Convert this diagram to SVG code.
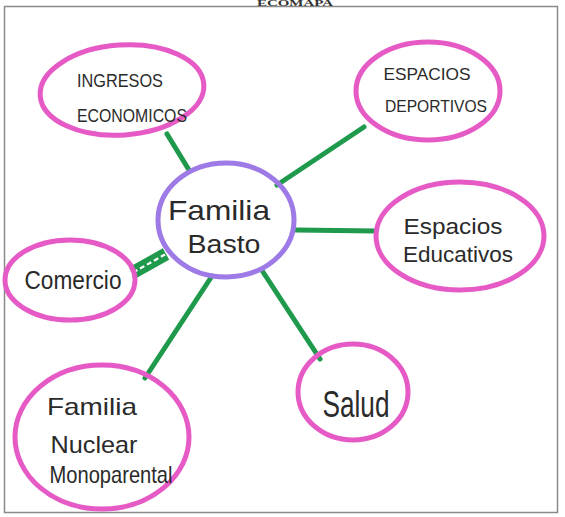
<svg xmlns="http://www.w3.org/2000/svg" width="565" height="517" viewBox="0 0 565 517">
<style>
.node{fill:none;stroke:#e65ac6;stroke-width:5}
.center{fill:none;stroke:#9d7ae6;stroke-width:5}
.link{stroke:#1f9a4c;stroke-width:5;stroke-linecap:round;fill:none}
.t{font-family:"Liberation Sans",Arial,sans-serif;fill:#2a2a2a;text-anchor:middle}
</style>
<rect x="0" y="0" width="565" height="517" fill="#ffffff"/>
<rect x="4.5" y="6.5" width="553" height="506" fill="none" stroke="#8a8a8a" stroke-width="1.5"/>
<text x="295" y="5.5" font-family="Liberation Serif,serif" font-weight="bold" font-size="7.5" fill="#333" text-anchor="middle" textLength="76" lengthAdjust="spacingAndGlyphs">ECOMAPA</text>
<g id="connectors">
<line class="link" x1="167" y1="134" x2="189" y2="170"/>
<line class="link" x1="364" y1="127" x2="277" y2="185"/>
<line class="link" x1="296" y1="230" x2="376" y2="231"/>
<line class="link" x1="145" y1="378" x2="212" y2="276"/>
<line class="link" x1="320" y1="359" x2="263" y2="272"/>
<line x1="132" y1="273" x2="166" y2="254" stroke="#1f9a4c" stroke-width="13"/>
<line x1="133" y1="272.5" x2="165" y2="254.5" stroke="#ffffff" stroke-width="2.2" stroke-dasharray="5 3"/>
</g>
<g id="ingresos">
<ellipse class="node" cx="122" cy="90" rx="82" ry="45" transform="rotate(-4 122 90)"/>
<text class="t" x="120" y="87" font-size="18" textLength="86" lengthAdjust="spacingAndGlyphs">INGRESOS</text>
<text class="t" x="132" y="122" font-size="18" textLength="110" lengthAdjust="spacingAndGlyphs">ECONOMICOS</text>
</g>
<g id="deportivos">
<ellipse class="node" cx="428" cy="91" rx="72" ry="49"/>
<text class="t" x="427" y="80" font-size="17" textLength="87" lengthAdjust="spacingAndGlyphs">ESPACIOS</text>
<text class="t" x="436" y="112" font-size="17" textLength="102" lengthAdjust="spacingAndGlyphs">DEPORTIVOS</text>
</g>
<g id="familia-basto">
<ellipse class="center" cx="226" cy="220" rx="68" ry="57"/>
<text class="t" x="219" y="220" font-size="28" textLength="102" lengthAdjust="spacingAndGlyphs">Familia</text>
<text class="t" x="224" y="253" font-size="26" textLength="73" lengthAdjust="spacingAndGlyphs">Basto</text>
</g>
<g id="educativos">
<ellipse class="node" cx="460" cy="236" rx="84" ry="54"/>
<text class="t" x="453" y="234" font-size="22" textLength="99" lengthAdjust="spacingAndGlyphs">Espacios</text>
<text class="t" x="458" y="262" font-size="22" textLength="110" lengthAdjust="spacingAndGlyphs">Educativos</text>
</g>
<g id="comercio">
<ellipse class="node" cx="70" cy="280" rx="65" ry="40"/>
<text class="t" x="73" y="289" font-size="25" textLength="97" lengthAdjust="spacingAndGlyphs">Comercio</text>
</g>
<g id="familia-nuclear">
<ellipse class="node" cx="102" cy="437" rx="87" ry="72"/>
<text class="t" x="92" y="415" font-size="24" textLength="90" lengthAdjust="spacingAndGlyphs">Familia</text>
<text class="t" x="94" y="453" font-size="24" textLength="87" lengthAdjust="spacingAndGlyphs">Nuclear</text>
<text class="t" x="111" y="483" font-size="24" textLength="123" lengthAdjust="spacingAndGlyphs">Monoparental</text>
</g>
<g id="salud">
<ellipse class="node" cx="353" cy="392" rx="55" ry="48"/>
<text class="t" x="356" y="417" font-size="36" textLength="67" lengthAdjust="spacingAndGlyphs">Salud</text>
</g>
</svg>
